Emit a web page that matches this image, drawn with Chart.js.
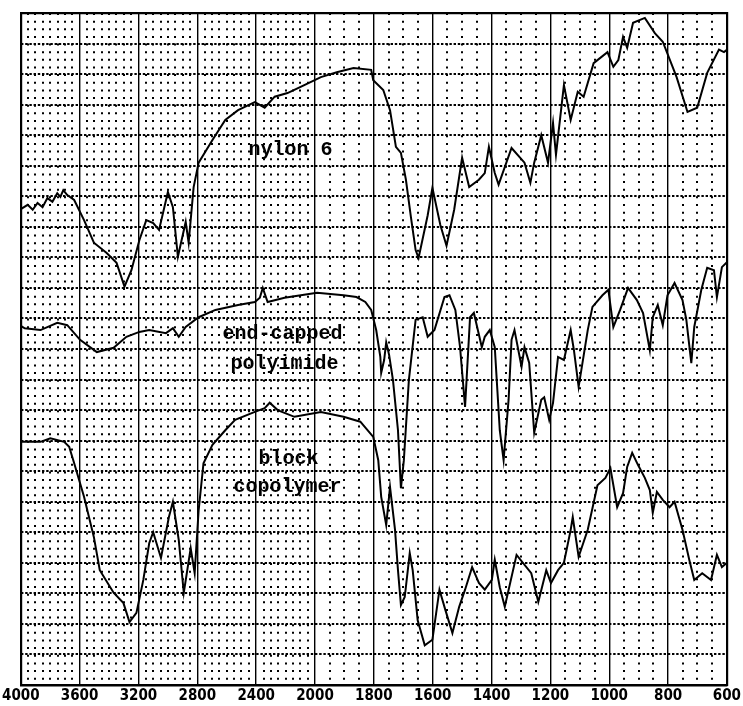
<!DOCTYPE html>
<html>
<head>
<meta charset="utf-8">
<script src="https://cdn.jsdelivr.net/npm/chart.js@4.4.1/dist/chart.umd.min.js"></script>
<style>
html, body { margin: 0; padding: 0; background: #fff; }
#wrap { width: 743px; height: 706px; }
</style>
</head>
<body>
<div id="wrap"><canvas id="spec" width="743" height="706"></canvas></div>
<script>
// wavenumber axis is not linear: 400 cm-1 per division above 2000, 200 below
const tickWn = [4000, 3600, 3200, 2800, 2400, 2000, 1800, 1600, 1400, 1200, 1000, 800, 600];
const tickLabels = ['4000', '3600', '3200', '2800', '2400', '2000', '1800', '1600', '1400', '1200', '1000', '800', '600'];

const nylonWn = [4000, 3953, 3919, 3886, 3852, 3819, 3785, 3752, 3731, 3711, 3684, 3637, 3570, 3503, 3416, 3349, 3295, 3248, 3194, 3147,
    3100, 3060, 3000, 2966, 2932, 2879, 2859, 2825, 2791, 2697, 2610, 2523, 2409, 2342, 2274, 2187, 2073, 1980, 1926, 1869,
    1809, 1802, 1768, 1745, 1725, 1708, 1691, 1674, 1658, 1648, 1617, 1601, 1574, 1553, 1527, 1500, 1476, 1443, 1423, 1409,
    1389, 1376, 1332, 1288, 1268, 1255, 1231, 1208, 1191, 1181, 1154, 1131, 1107, 1087, 1053, 1006, 986, 969, 953, 939,
    919, 879, 845, 818, 771, 734, 701, 667, 627, 610, 600];
const nylonT = [77.9, 78.6, 77.8, 78.9, 78.2, 79.7, 79.1, 80.5, 79.9, 81.0, 80.2, 79.4, 76.1, 72.4, 70.7, 69.1, 65.2, 67.9, 72.8, 76.1,
    75.6, 74.5, 80.7, 78.2, 70.1, 75.8, 72.4, 81.5, 85.5, 89.2, 92.5, 94.1, 95.4, 94.5, 96.3, 96.9, 98.2, 99.5, 100.3, 101.0,
    100.7, 99.0, 97.4, 94.1, 88.1, 87.1, 82.7, 76.6, 71.2, 69.9, 76.9, 81.4, 75.3, 71.9, 77.8, 86.3, 81.5, 82.7, 83.8, 88.1,
    83.8, 81.9, 87.9, 85.5, 82.2, 85.5, 90.0, 85.5, 92.0, 86.8, 98.2, 92.5, 97.1, 96.3, 101.8, 103.6, 101.2, 102.3, 106.1, 104.3,
    108.4, 109.2, 106.7, 105.3, 99.5, 93.8, 94.5, 100.2, 104.0, 103.6, 104.0];

const imideWn = [4000, 3973, 3866, 3752, 3684, 3597, 3483, 3369, 3282, 3194, 3127, 3013, 2966, 2926, 2879, 2791, 2677, 2523, 2409, 2375,
    2355, 2322, 2207, 1993, 1903, 1859, 1829, 1809, 1792, 1778, 1775, 1765, 1758, 1748, 1735, 1718, 1708, 1698, 1681, 1658,
    1634, 1617, 1594, 1560, 1543, 1523, 1507, 1490, 1473, 1460, 1433, 1423, 1406, 1389, 1372, 1359, 1342, 1332, 1322, 1298,
    1288, 1272, 1255, 1231, 1221, 1204, 1191, 1174, 1154, 1131, 1120, 1104, 1073, 1057, 1023, 1003, 986, 963, 936, 906,
    885, 862, 852, 835, 818, 802, 778, 751, 738, 721, 711, 687, 667, 644, 634, 617, 600];
const imideT = [58.8, 58.4, 58.1, 59.3, 58.9, 56.5, 54.5, 55.2, 57.0, 57.8, 58.1, 57.6, 58.4, 57.0, 58.6, 60.2, 61.4, 62.2, 62.7, 63.4,
    65.0, 62.7, 63.4, 64.2, 63.8, 63.5, 62.7, 61.4, 58.1, 53.7, 51.1, 53.2, 56.1, 54.0, 49.9, 41.7, 32.2, 36.8, 49.9, 59.8,
    60.2, 57.0, 58.1, 63.5, 63.8, 61.4, 55.3, 45.5, 60.2, 60.9, 55.3, 57.0, 58.1, 55.3, 41.7, 36.8, 46.7, 56.5, 58.1, 52.1,
    55.3, 52.7, 41.3, 46.7, 47.1, 43.4, 46.2, 53.7, 53.2, 58.1, 54.8, 48.8, 58.1, 61.9, 63.8, 64.7, 58.6, 61.4, 65.0, 63.0,
    60.9, 54.8, 60.2, 62.2, 58.9, 63.8, 65.8, 63.0, 59.8, 52.7, 58.6, 64.7, 68.3, 67.9, 63.5, 68.4, 69.2];

const blockWn = [4000, 3973, 3866, 3799, 3705, 3671, 3637, 3570, 3503, 3463, 3369, 3302, 3261, 3214, 3167, 3127, 3100, 3047, 2993, 2966,
    2926, 2892, 2845, 2818, 2791, 2758, 2697, 2610, 2543, 2409, 2342, 2308, 2254, 2140, 1980, 1903, 1846, 1802, 1785, 1775,
    1758, 1745, 1728, 1718, 1708, 1695, 1678, 1668, 1651, 1627, 1601, 1577, 1557, 1533, 1510, 1490, 1466, 1443, 1423, 1399,
    1389, 1372, 1355, 1315, 1265, 1241, 1214, 1198, 1174, 1154, 1131, 1124, 1104, 1073, 1040, 1013, 996, 973, 953, 939,
    922, 902, 879, 862, 852, 838, 818, 795, 778, 751, 728, 711, 684, 654, 634, 617, 600];
const blockT = [39.8, 39.8, 39.8, 40.4, 39.8, 39.0, 36.3, 30.8, 24.2, 18.8, 15.1, 13.4, 10.3, 11.8, 17.2, 23.2, 25.0, 20.8, 27.5, 30.0,
    23.7, 15.1, 22.4, 18.3, 28.6, 36.3, 39.3, 41.7, 43.4, 44.7, 45.3, 46.2, 45.0, 43.9, 44.7, 43.9, 43.1, 40.6, 36.8, 30.8,
    26.2, 32.4, 25.4, 18.8, 13.1, 14.4, 21.6, 18.8, 10.6, 6.5, 7.4, 15.6, 12.3, 8.5, 12.8, 15.6, 19.3, 16.7, 15.6, 17.2,
    20.5, 16.0, 12.8, 21.3, 18.3, 13.6, 18.8, 16.7, 18.8, 20.0, 25.4, 27.5, 21.0, 25.4, 32.7, 33.9, 35.5, 29.1, 31.4, 35.7,
    38.0, 36.0, 33.9, 31.9, 28.2, 31.6, 30.3, 29.1, 30.0, 25.4, 20.5, 17.2, 18.3, 17.2, 21.3, 19.3, 20.0];

// curve names written on the chart, anchored at (wavenumber, value)
const labelText = ['nylon 6', 'end-capped', 'polyimide', 'block', 'copolymer'];
const labelWn = [2167, 2221, 2208, 2180, 2187];
const labelT = [87.6, 57.5, 52.5, 37.0, 32.4];

// wavenumber -> position along the axis (one unit per labelled division)
function wnToPos(wn) {
    for (let i = 0; i < tickWn.length - 1; i++) {
        if (wn <= tickWn[i] && wn >= tickWn[i + 1]) {
            return i + (tickWn[i] - wn) / (tickWn[i] - tickWn[i + 1]);
        }
    }
    return wn > tickWn[0] ? 0 : tickWn.length - 1;
}

// minor dot columns every 50 cm-1
const minorPos = [];
for (let i = 0; i < tickWn.length - 1; i++) {
    let n = (tickWn[i] - tickWn[i + 1]) / 50;
    for (let k = 1; k < n; k++) minorPos.push(i + k / n);
}

function series(wns, ts) {
    let out = [];
    for (let i = 0; i < Math.min(wns.length, ts.length); i++) {
        out.push({ x: wnToPos(wns[i]), y: ts[i] });
    }
    return out;
}

const lineStyle = {
    borderColor: '#000',
    borderWidth: 2,
    pointRadius: 0,
    tension: 0,
    fill: false
};

const curveLabels = {
    id: 'curveLabels',
    afterDatasetsDraw(chart) {
        const ctx = chart.ctx;
        const xs = chart.scales.x, ys = chart.scales.y;
        ctx.save();
        ctx.font = 'bold 20px "Liberation Mono", "DejaVu Sans Mono", monospace';
        ctx.fillStyle = '#000';
        ctx.textAlign = 'center';
        ctx.textBaseline = 'middle';
        for (let i = 0; i < labelText.length; i++) {
            ctx.fillText(labelText[i], xs.getPixelForValue(wnToPos(labelWn[i])), ys.getPixelForValue(labelT[i]));
        }
        ctx.restore();
    }
};

const lastPos = tickWn.length - 1;

// frame-only axis (no ticks, no grid, just the solid border line)
function frameAxis(position, max) {
    return {
        type: 'linear',
        position: position,
        min: 0,
        max: max,
        afterFit: axis => {
            if (axis.isHorizontal()) axis.height = 0; else axis.width = 0;
        },
        ticks: { display: false },
        grid: { display: false },
        border: { display: true, color: '#000', width: 2.2 }
    };
}

new Chart(document.getElementById('spec').getContext('2d'), {
    type: 'line',
    data: {
        datasets: [
            Object.assign({ label: 'nylon 6', data: series(nylonWn, nylonT) }, lineStyle),
            Object.assign({ label: 'end-capped polyimide', data: series(imideWn, imideT) }, lineStyle),
            Object.assign({ label: 'block copolymer', data: series(blockWn, blockT) }, lineStyle)
        ]
    },
    options: {
        responsive: false,
        animation: false,
        layout: { padding: { left: 13, right: 15, top: 13, bottom: 0 } },
        plugins: { legend: { display: false }, tooltip: { enabled: false } },
        scales: {
            x: {
                type: 'linear',
                position: 'bottom',
                min: 0,
                max: lastPos,
                afterBuildTicks: axis => { axis.ticks = tickWn.map((_, i) => ({ value: i })); },
                afterFit: axis => { axis.height = 21; },
                ticks: {
                    autoSkip: false,
                    maxRotation: 0,
                    padding: 2,
                    color: '#000',
                    font: { family: '"Liberation Sans Narrow", "DejaVu Sans Condensed", sans-serif', size: 15, weight: 'bold' },
                    callback: (v, i) => tickLabels[i]
                },
                grid: { color: '#000', lineWidth: 1.4, drawTicks: false },
                border: { display: true, color: '#000', width: 2.5 }
            },
            xm: {
                type: 'linear',
                position: 'bottom',
                min: 0,
                max: lastPos,
                afterBuildTicks: axis => { axis.ticks = minorPos.map(p => ({ value: p })); },
                afterFit: axis => { axis.height = 0; },
                ticks: { display: false },
                grid: { color: '#000', lineWidth: 2, drawTicks: false },
                border: { display: false, dash: [2, 5.64] }
            },
            xt: frameAxis('top', lastPos),
            y: {
                type: 'linear',
                min: 0,
                max: 110,
                afterBuildTicks: axis => {
                    let t = [];
                    for (let v = 0; v <= 110; v += 5) t.push({ value: v });
                    axis.ticks = t;
                },
                afterFit: axis => { axis.width = 0; },
                ticks: { display: false },
                grid: { color: '#000', lineWidth: 2, drawTicks: false },
                border: { display: false, dash: [2.4, 1.8] }
            },
            yl: frameAxis('left', 110),
            yr: frameAxis('right', 110)
        }
    },
    plugins: [curveLabels]
});
</script>
</body>
</html>
